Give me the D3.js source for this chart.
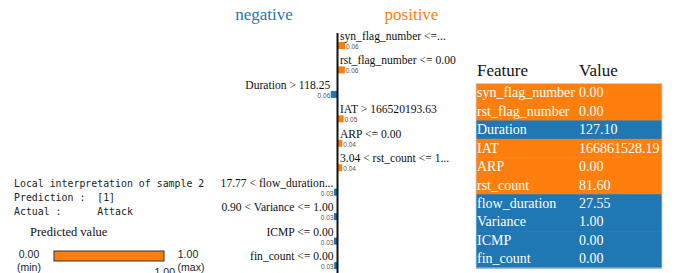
<!DOCTYPE html>
<html><head><meta charset="utf-8">
<script src="https://cdn.jsdelivr.net/npm/d3@7"></script>
<style>body{margin:0;background:#fff;}svg{display:block;}</style>
</head><body>
<script>
// ---- data ----
const featureNames = ["syn_flag_number <=...", "rst_flag_number <= 0.00", "Duration > 118.25", "IAT > 166520193.63", "ARP <= 0.00", "3.04 < rst_count <= 1...", "17.77 < flow_duration...", "0.90 < Variance <= 1.00", "ICMP <= 0.00", "fin_count <= 0.00"];
const weights = [0.063, 0.061, -0.056, 0.051, 0.040, 0.040, -0.030, -0.029, -0.029, -0.028];
const tableFeatures = ["syn_flag_number", "rst_flag_number", "Duration", "IAT", "ARP", "rst_count", "flow_duration", "Variance", "ICMP", "fin_count"];
const tableValues = ["0.00", "0.00", "127.10", "166861528.19", "0.00", "81.60", "27.55", "1.00", "0.00", "0.00"];
const tableSigns = [1, 1, -1, 1, 1, 1, -1, -1, -1, -1];
const infoLines = ["Local interpretation of sample 2", "Prediction :  [1]", "Actual :      Attack"];
const predValue = 1.00, predMin = 0.00, predMax = 1.00;

const W = 675, H = 273;
const POS = "#ff7f0e", NEG = "#1f77b4";
const serif = "'Liberation Serif','Times New Roman',serif";
const sans = "'Liberation Sans',Arial,sans-serif";

const svg = d3.select("body").append("svg").attr("width", W).attr("height", H);

// ---- info text ----
svg.selectAll("text.info").data(infoLines).enter().append("text")
  .attr("x", 14).attr("y", (d, i) => 187 + i * 14)
  .attr("font-family", "'DejaVu Sans Mono',monospace").attr("font-size", 9.9)
  .attr("fill", "#222").attr("xml:space", "preserve").style("white-space", "pre")
  .text(d => d);

// ---- predicted value ----
svg.append("text").attr("x", 30).attr("y", 236).attr("font-family", serif)
  .attr("font-size", 12.5).attr("fill", "#111").text("Predicted value");
const px = d3.scaleLinear().domain([predMin, predMax]).range([54, 164]);
svg.append("rect").attr("x", px(predMin)).attr("y", 251)
  .attr("width", px(predValue) - px(predMin)).attr("height", 10)
  .attr("fill", POS).attr("stroke", "#333").attr("stroke-width", 1);
const pt = [
  [29, 258, predMin.toFixed(2)], [29, 271, "(min)"],
  [188, 258, predMax.toFixed(2)], [191, 271, "(max)"]
];
svg.selectAll("text.pl").data(pt).enter().append("text")
  .attr("x", d => d[0]).attr("y", d => d[1]).attr("text-anchor", "middle")
  .attr("font-family", sans).attr("font-size", 10.5).attr("fill", "#222").text(d => d[2]);
svg.append("text").attr("x", px(predValue) + 11).attr("y", 276).attr("text-anchor", "end")
  .attr("font-family", sans).attr("font-size", 10.5).attr("fill", "#222").text(predValue.toFixed(2));

// ---- explanation bar chart ----
const x = d3.scaleLinear().domain([-1, 1]).range([337.5 - 120, 337.5 + 120]);
const y = d3.scaleBand().domain(d3.range(featureNames.length)).range([33, 33 + 24.45 * featureNames.length]);

svg.append("text").attr("x", 264).attr("y", 20).attr("text-anchor", "middle")
  .attr("font-family", serif).attr("font-size", 17).attr("fill", NEG).text("negative");
svg.append("text").attr("x", 411.5).attr("y", 20).attr("text-anchor", "middle")
  .attr("font-family", serif).attr("font-size", 17).attr("fill", POS).text("positive");

const rows = svg.selectAll("g.row").data(featureNames).enter().append("g");
rows.append("rect")
  .attr("x", (d, i) => Math.min(x(0), x(weights[i])))
  .attr("y", (d, i) => y(i) + 9)
  .attr("width", (d, i) => Math.abs(x(weights[i]) - x(0)))
  .attr("height", 7)
  .attr("fill", (d, i) => weights[i] > 0 ? POS : NEG);
rows.append("text")
  .attr("x", (d, i) => weights[i] > 0 ? x(0) + 2.5 : x(weights[i]) - 0.5)
  .attr("y", (d, i) => y(i) + 7)
  .attr("text-anchor", (d, i) => weights[i] > 0 ? "start" : "end")
  .attr("font-family", serif).attr("font-size", 11.6).attr("fill", "#111")
  .text(d => d);
rows.append("text")
  .attr("x", (d, i) => weights[i] > 0 ? x(weights[i]) + 1 : x(weights[i]) - 0.5)
  .attr("y", (d, i) => y(i) + 16)
  .attr("text-anchor", (d, i) => weights[i] > 0 ? "start" : "end")
  .attr("font-family", sans).attr("font-size", 6.5).attr("fill", "#555")
  .text((d, i) => Math.abs(weights[i]).toFixed(2));
svg.append("line").attr("x1", x(0)).attr("x2", x(0)).attr("y1", 33).attr("y2", H)
  .attr("stroke", "#111").attr("stroke-width", 2);

// ---- table ----
const tx0 = 476, tx1 = 662, tv = 579;
const ty = d3.scaleBand().domain(d3.range(tableFeatures.length)).range([83.5, 268]);
svg.append("text").attr("x", 477).attr("y", 76).attr("font-family", serif)
  .attr("font-size", 17).attr("fill", "#111").text("Feature");
svg.append("text").attr("x", tv).attr("y", 76).attr("font-family", serif)
  .attr("font-size", 17).attr("fill", "#111").text("Value");
const trows = svg.selectAll("g.trow").data(tableFeatures).enter().append("g");
trows.append("rect").attr("x", tx0).attr("y", (d, i) => ty(i))
  .attr("width", tx1 - tx0).attr("height", ty.bandwidth() + 0.5)
  .attr("fill", (d, i) => tableSigns[i] > 0 ? POS : NEG);
trows.append("text").attr("x", 477).attr("y", (d, i) => ty(i) + 13.8)
  .attr("font-family", serif).attr("font-size", 14).attr("fill", "#fff").text(d => d);
trows.append("text").attr("x", tv).attr("y", (d, i) => ty(i) + 13.8)
  .attr("font-family", serif).attr("font-size", 14).attr("fill", "#fff").text((d, i) => tableValues[i]);
svg.append("rect").attr("x", tx0).attr("y", 83.5).attr("width", tx1 - tx0).attr("height", 268 - 83.5)
  .attr("fill", "none").attr("stroke", "#c8d4e0").attr("stroke-width", 0.8);
</script>
</body></html>
